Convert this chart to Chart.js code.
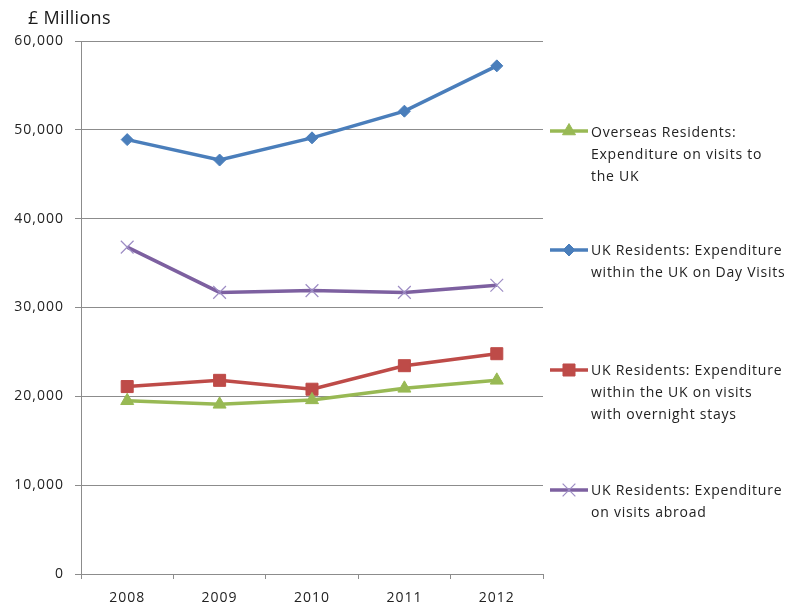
<!DOCTYPE html>
<html><head><meta charset="utf-8">
<script src="https://cdn.jsdelivr.net/npm/chart.js@4/dist/chart.umd.min.js"></script>
<style>
html,body{margin:0;padding:0;background:#fff;}
#wrap{position:relative;width:793px;height:606px;}
#title{position:absolute;left:28px;top:5px;font:18px "Open Sans",sans-serif;color:#1a1a1a;letter-spacing:0.3px;}
.leg{position:absolute;left:591px;font:14px "Open Sans",sans-serif;color:#222;line-height:22px;white-space:nowrap;letter-spacing:0.75px;}
</style></head>
<body><div id="wrap"><canvas id="c" width="793" height="606"></canvas>
<div id="title">£ Millions</div>
<div class="leg" style="top:121px">Overseas Residents:<br>Expenditure on visits to<br>the UK</div>
<div class="leg" style="top:239px">UK Residents: Expenditure<br>within the UK on Day Visits</div>
<div class="leg" style="top:359px">UK Residents: Expenditure<br>within the UK on visits<br>with overnight stays</div>
<div class="leg" style="top:479px">UK Residents: Expenditure<br>on visits abroad</div>
</div>
<script>
const years = ['2008','2009','2010','2011','2012'];
const overseas = [19500, 19100, 19600, 20900, 21800];
const dayVisits = [48900, 46600, 49100, 52100, 57200];
const overnight = [21100, 21800, 20800, 23450, 24800];
const abroad = [36800, 31700, 31900, 31700, 32500];
const legendY = [131, 250, 370, 490];

const series = [
 {label:'Overseas Residents: Expenditure on visits to the UK', data:overseas, color:'#98b954', style:'triangle', r:7.5},
 {label:'UK Residents: Expenditure within the UK on Day Visits', data:dayVisits, color:'#4a7ebb', style:'rectRot', r:6},
 {label:'UK Residents: Expenditure within the UK on visits with overnight stays', data:overnight, color:'#be4b48', style:'rect', r:8.5},
 {label:'UK Residents: Expenditure on visits abroad', data:abroad, color:'#7d60a0', style:'crossRot', r:9, pc:'#9d8cc4'}
];

const spacingPlugin = {
 id:'spacing',
 beforeDraw(chart){ chart.ctx.letterSpacing = '1px'; }
};

const legendPlugin = {
 id:'sideLegend',
 afterDraw(chart){
  const ctx = chart.ctx;
  series.forEach((s,i)=>{
   const y = legendY[i];
   ctx.save();
   ctx.strokeStyle = s.color; ctx.lineWidth = 3.5;
   ctx.beginPath(); ctx.moveTo(550,y); ctx.lineTo(588,y); ctx.stroke();
   ctx.fillStyle = s.color; ctx.strokeStyle = s.pc || s.color; ctx.lineWidth = s.style==='crossRot'?1.2:1;
   Chart.helpers.drawPoint(ctx,{pointStyle:s.style,radius:s.r,borderWidth:ctx.lineWidth},569,y);
   ctx.restore();
  });
 }
};

new Chart(document.getElementById('c'),{
 type:'line',
 data:{labels:years, datasets:series.map(s=>({
  label:s.label, data:s.data, borderColor:s.color, backgroundColor:s.color,
  borderWidth:3.5, pointStyle:s.style, pointRadius:s.r, pointBorderColor:s.pc||s.color,
  pointBackgroundColor:s.color, pointBorderWidth:s.style==='crossRot'?1.2:1, tension:0
 }))},
 options:{
  responsive:false, animation:false,
  layout:{padding:{left:0,right:250,top:41,bottom:0}},
  plugins:{legend:{display:false},tooltip:{enabled:false}},
  scales:{
   x:{offset:true,
      grid:{offset:true,drawOnChartArea:false,drawTicks:true,tickLength:5,color:'#8c8c8c'},
      border:{color:'#8c8c8c'},
      ticks:{color:'#222',font:{family:'Open Sans',size:14},padding:11},
      afterFit(s){s.height=32;}},
   y:{min:0,max:60000,
      ticks:{stepSize:10000,color:'#222',font:{family:'Open Sans',size:14},padding:11,
        callback:v=>v.toLocaleString('en-US')},
      grid:{color:'#8c8c8c',tickLength:6},
      border:{color:'#8c8c8c'},
      afterFit(s){s.width=81;}}
  }
 },
 plugins:[spacingPlugin, legendPlugin]
});
</script></body></html>
